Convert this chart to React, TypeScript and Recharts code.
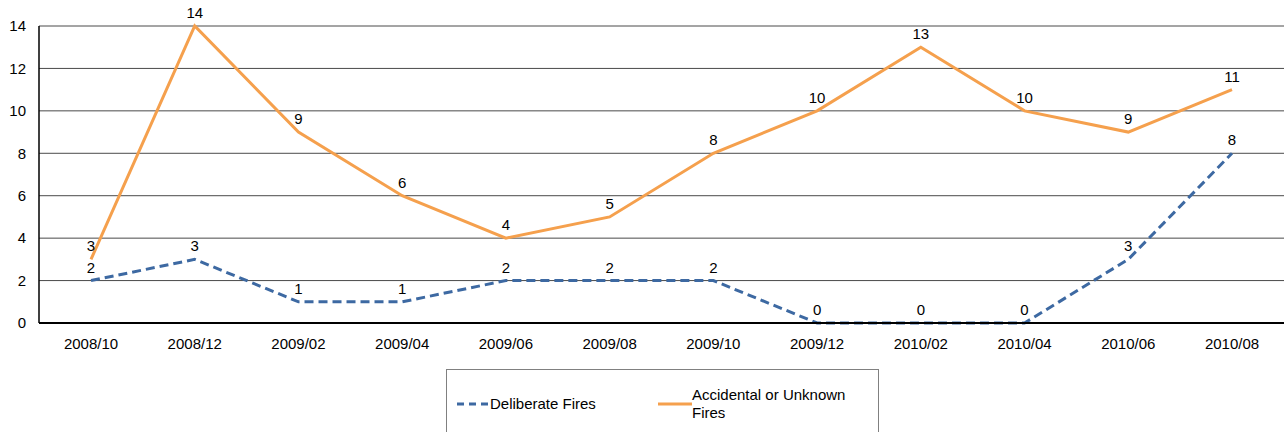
import React from "react";
import { LineChart, Line, XAxis, YAxis, CartesianGrid, LabelList, Legend } from "recharts";

const categories = ["2008/10", "2008/12", "2009/02", "2009/04", "2009/06", "2009/08", "2009/10", "2009/12", "2010/02", "2010/04", "2010/06", "2010/08"];
const deliberate = [2, 3, 1, 1, 2, 2, 2, 0, 0, 0, 3, 8];
const accidental = [3, 14, 9, 6, 4, 5, 8, 10, 13, 10, 9, 11];
const yTicks = [0, 2, 4, 6, 8, 10, 12, 14];

const BLUE = "#3D69A2";
const ORANGE = "#F5A04D";
const FONT = "'Liberation Sans', Arial, sans-serif";

const data = categories.map((c, i) => ({ cat: c, deliberate: deliberate[i], accidental: accidental[i] }));

const LegendBox = () => (
  <div
    style={{
      width: 433,
      height: 70,
      border: "1px solid #808080",
      boxSizing: "border-box",
      position: "relative",
      fontFamily: FONT,
      fontSize: 15,
      color: "#000",
      background: "#fff",
    }}
  >
    <svg style={{ position: "absolute", left: 9, top: 32 }} width={34} height={4}>
      <line x1={1} y1={2} x2={33} y2={2} stroke={BLUE} strokeWidth={3} strokeDasharray="7 5" />
    </svg>
    <div style={{ position: "absolute", left: 43, top: 25, lineHeight: "17px" }}>Deliberate Fires</div>
    <svg style={{ position: "absolute", left: 211, top: 32 }} width={34} height={4}>
      <line x1={0} y1={2} x2={34} y2={2} stroke={ORANGE} strokeWidth={3} />
    </svg>
    <div style={{ position: "absolute", left: 245, top: 16, lineHeight: "18px" }}>
      Accidental or Unknown
      <br />
      Fires
    </div>
  </div>
);

export default function App() {
  return (
    <div style={{ position: "absolute", left: 0, top: 0, width: 1286, height: 432, background: "#fff", overflow: "hidden" }}>
      <LineChart
        width={1286}
        height={432}
        data={data}
        margin={{ top: 26, right: 2, bottom: 79, left: 0 }}
        style={{ fontFamily: FONT }}
      >
        <CartesianGrid vertical={false} stroke="#4a4a4a" strokeWidth={1} />
        <XAxis
          dataKey="cat"
          height={30}
          padding={{ left: 52, right: 52 }}
          tickLine={false}
          tickSize={6}
          tickMargin={9}
          axisLine={{ stroke: "#000", strokeWidth: 2 }}
          tick={{ fill: "#000", fontSize: 15, fontFamily: FONT }}
          interval={0}
        />
        <YAxis
          width={39}
          domain={[0, 14]}
          ticks={yTicks}
          tickLine={false}
          tickSize={6}
          tickMargin={7}
          axisLine={{ stroke: "#000", strokeWidth: 1.5 }}
          tick={{ fill: "#000", fontSize: 15, fontFamily: FONT }}
        />
        <YAxis
          yAxisId="right"
          orientation="right"
          width={0}
          domain={[0, 14]}
          tick={false}
          tickLine={false}
          axisLine={{ stroke: "#000", strokeWidth: 1 }}
        />
        <Legend
          layout="horizontal"
          verticalAlign="middle"
          align="center"
          content={() => <LegendBox />}
          wrapperStyle={{ position: "absolute", left: 446, top: 369, width: 433, height: 70 }}
        />
        <Line
          type="linear"
          dataKey="deliberate"
          name="Deliberate Fires"
          stroke={BLUE}
          strokeWidth={3}
          strokeDasharray="9 5"
          dot={false}
          activeDot={false}
          isAnimationActive={false}
        >
          <LabelList dataKey="deliberate" position="top" offset={8} fill="#000" fontSize={15} fontFamily={FONT} />
        </Line>
        <Line
          type="linear"
          dataKey="accidental"
          name="Accidental or Unknown Fires"
          stroke={ORANGE}
          strokeWidth={3}
          dot={false}
          activeDot={false}
          isAnimationActive={false}
        >
          <LabelList dataKey="accidental" position="top" offset={8} fill="#000" fontSize={15} fontFamily={FONT} />
        </Line>
      </LineChart>
    </div>
  );
}
